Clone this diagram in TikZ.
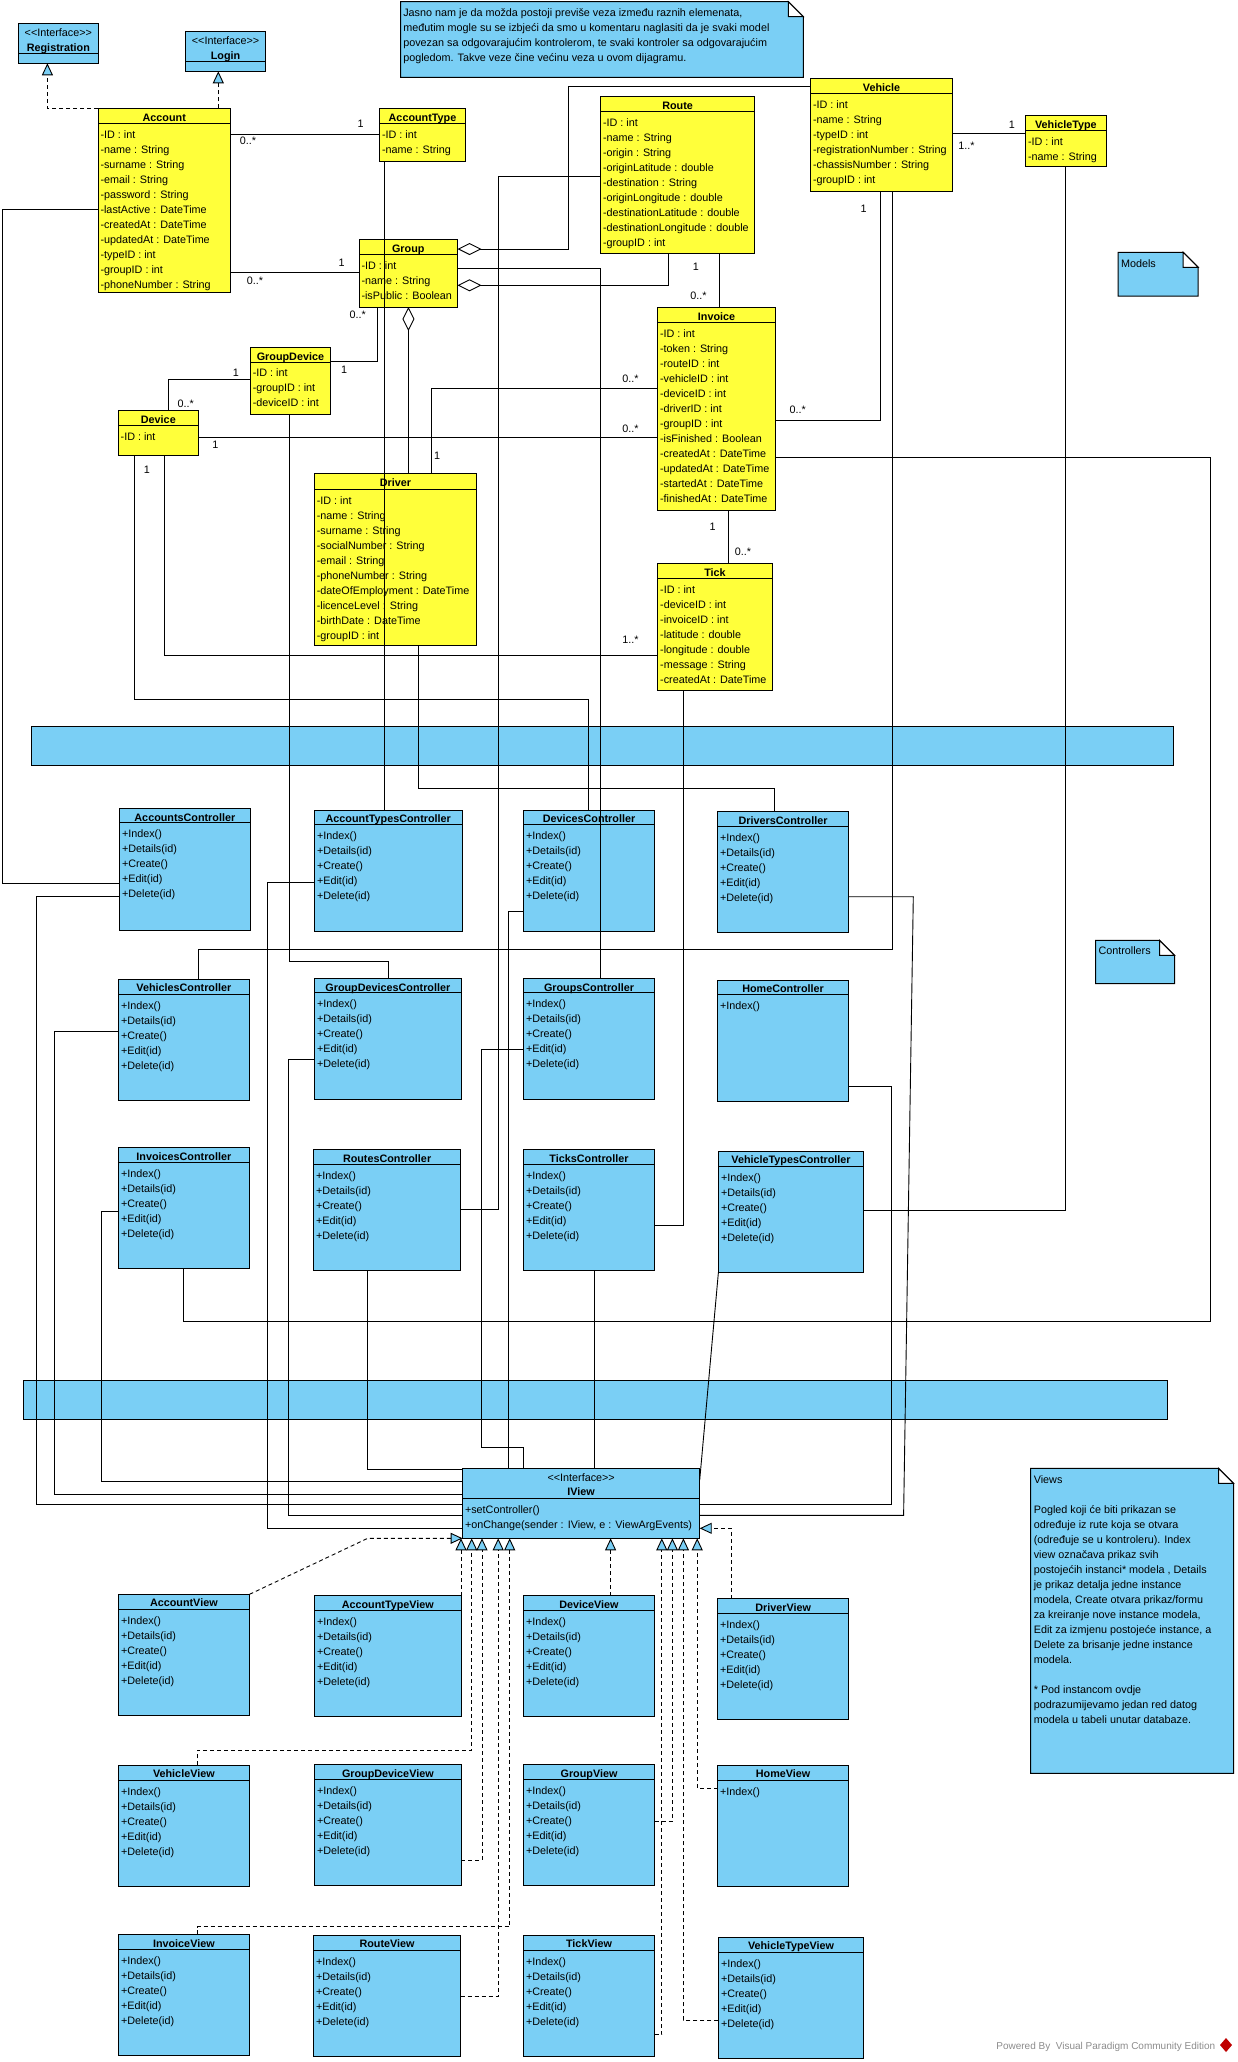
\documentclass[tikz,border=0pt]{standalone}
\usepackage{fontspec}
\newfontfamily\vp{Liberation Sans}
\usetikzlibrary{arrows.meta,fit}
\definecolor{vpy}{RGB}{255,255,58}
\definecolor{vpb}{RGB}{122,207,245}
\tikzset{
 ubox/.style={draw=black, line width=1pt, inner sep=0pt, outer sep=0pt},
 ubline/.style={draw=black, line width=1pt},
 txt/.style={inner sep=0pt, outer sep=0pt, text height=7.7pt, text depth=0pt, font=\vp\fontsize{10.8pt}{13pt}\selectfont},
 urow/.style={txt, anchor=west},
 utitle/.style={txt, font=\vp\bfseries\fontsize{10.8pt}{13pt}\selectfont},
 conn/.style={draw=black, line width=0.9pt},
 dsh/.style={conn, dash pattern=on 4pt off 3pt},
 real/.style={dsh, -{Triangle[width=11pt,length=12pt,fill=vpb,line width=0.9pt]}},
 agg/.style={conn, {Diamond[width=12pt,length=24pt,fill=white,line width=0.9pt]}-},
 mult/.style={txt, anchor=center},
}
\newcommand\ucls[7]{%
  \node[ubox, fill=#6, fit={(#2,#3) (#4,#5)}] (#1) {};
  \draw[ubline] (#2,#7) -- (#4,#7);}
\newcommand\utit[3]{\node[utitle] (#1t) at (#1.north |- 0,#2) {#3};}
\newcommand\ster[2]{\node[txt] (#1s) at (#1.north |- 0,#2) {<<Interface>>};}
\newcommand\urows[4]{\foreach \t [count=\i from 0] in #4 {\node[urow] (#1r\i) at (#2,{#3+15*\i}) {\t};}}
\newcommand\unote[5]{%
  \node[inner sep=0pt, outer sep=0pt, fit={(#2,#3) (#4,#5)}] (#1) {};
  \draw[ubline, fill=vpb] (#2,#3) -- ({#4-15},#3) -- (#4,{#3+15}) -- (#4,#5) -- (#2,#5) -- cycle;
  \draw[ubline, fill=white] ({#4-15},#3) -- ({#4-15},{#3+15}) -- (#4,{#3+15}) -- cycle;}
\newcommand\mlab[4]{\node[mult] (#1) at (#2,#3) {#4};}
\def\crud{+Index(),+Details(id),+Create(),+Edit(id),+Delete(id)}
\begin{document}
\begin{tikzpicture}[x=1pt,y=-1pt]
\useasboundingbox (0,0) rectangle (1238,2062);
\path[fill=white] (0,0) rectangle (1238,2062);

% bands
\node[ubox, fill=vpb, fit={(31.2,726.3) (1173.7,765.3)}] (cband) {};
\node[ubox, fill=vpb, fit={(23.3,1380.3) (1167.6,1419.3)}] (vband) {};

% notes
\unote{ntop}{400.5}{1.7}{803.4}{77.3}
\node[urow] (ntop1) at (403.3,12.3) {Jasno nam je da možda postoji previše veza između raznih elemenata,};
\node[urow] (ntop2) at (403.3,27.3) {međutim mogle su se izbjeći da smo u komentaru naglasiti da je svaki model};
\node[urow] (ntop3) at (403.3,42.3) {povezan sa odgovarajućim kontrolerom, te svaki kontroler sa odgovarajućim};
\node[urow] (ntop4) at (403.3,57.3) {pogledom. Takve veze čine većinu veza u ovom dijagramu.};
\unote{nmod}{1118.2}{252.3}{1198.2}{296}
\node[urow] (nmod1) at (1121,263.3) {Models};
\unote{nctl}{1095.6}{940.3}{1174.5}{983.7}
\node[urow] (nctl1) at (1098.5,951) {Controllers};
\unote{nview}{1030.5}{1468.3}{1233.5}{1773.3}
\node[urow] (nview0) at (1033.8,1479.3) {Views};
\foreach \t [count=\i from 0] in {Pogled koji će biti prikazan se,određuje iz rute koja se otvara,(određuje se u kontroleru). Index,view označava prikaz svih,postojećih instanci* modela {,} Details,je prikaz detalja jedne instance,{modela, Create otvara prikaz/formu},{za kreiranje nove instance modela,},{Edit za izmjenu postojeće instance, a},Delete za brisanje jedne instance,modela.,,* Pod instancom ovdje,podrazumijevamo jedan red datog,modela u tabeli unutar databaze.}
  {\node[urow] (nvl\i) at (1033.8,{1509.3+15*\i}) {\t};}

% interfaces
\ucls{reg}{18.6}{23.3}{98.1}{63.3}{vpb}{53.3}
\ster{reg}{32.3}\utit{reg}{47.3}{Registration}
\ucls{login}{185.4}{31.3}{265.7}{71.3}{vpb}{61.3}
\ster{login}{40.3}\utit{login}{55.3}{Login}

% models
\ucls{acc}{98}{108.3}{230.5}{292.3}{vpy}{123.3}
\utit{acc}{117.3}{Account}
\urows{acc}{100.5}{134.3}{{-ID : int,-name : String,-surname : String,-email : String,-password : String,-lastActive : DateTime,-createdAt : DateTime,-updatedAt : DateTime,-typeID : int,-groupID : int,-phoneNumber : String}}
\ucls{acct}{379.6}{108.3}{465.4}{161.3}{vpy}{123.3}
\utit{acct}{117.3}{AccountType}
\urows{acct}{382}{134.3}{{-ID : int,-name : String}}
\ucls{group}{359}{239.3}{457.5}{307}{vpy}{254.3}
\utit{group}{248.3}{Group}
\urows{group}{361.5}{265.3}{{-ID : int,-name : String,-isPublic : Boolean}}
\ucls{route}{600.6}{96.7}{754.6}{253.3}{vpy}{111.7}
\utit{route}{105.3}{Route}
\urows{route}{603}{122.3}{{-ID : int,-name : String,-origin : String,-originLatitude : double,-destination : String,-originLongitude : double,-destinationLatitude : double,-destinationLongitude : double,-groupID : int}}
\ucls{veh}{810.4}{78.3}{952.6}{191}{vpy}{93.7}
\utit{veh}{87.3}{Vehicle}
\urows{veh}{813}{104.3}{{-ID : int,-name : String,-typeID : int,-registrationNumber : String,-chassisNumber : String,-groupID : int}}
\ucls{vtype}{1025.3}{115.3}{1106.5}{166.3}{vpy}{130.7}
\utit{vtype}{124.3}{VehicleType}
\urows{vtype}{1028}{141.3}{{-ID : int,-name : String}}
\ucls{inv}{657.7}{307.3}{775.3}{510}{vpy}{322.7}
\utit{inv}{316.3}{Invoice}
\urows{inv}{660}{333.3}{{-ID : int,-token : String,-routeID : int,-vehicleID : int,-deviceID : int,-driverID : int,-groupID : int,-isFinished : Boolean,-createdAt : DateTime,-updatedAt : DateTime,-startedAt : DateTime,-finishedAt : DateTime}}
\ucls{gdev}{250.3}{347.3}{330.6}{414.3}{vpy}{362.3}
\utit{gdev}{356.3}{GroupDevice}
\urows{gdev}{252.8}{373}{{-ID : int,-groupID : int,-deviceID : int}}
\ucls{dev}{118.2}{410.3}{198.5}{455.3}{vpy}{425.7}
\utit{dev}{419.3}{Device}
\urows{dev}{120.7}{436.3}{{-ID : int}}
\ucls{drv}{314.3}{473.3}{476.5}{645.3}{vpy}{489.3}
\utit{drv}{482.3}{Driver}
\urows{drv}{316.8}{500.3}{{-ID : int,-name : String,-surname : String,-socialNumber : String,-email : String,-phoneNumber : String,-dateOfEmployment : DateTime,-licenceLevel : String,-birthDate : DateTime,-groupID : int}}
\ucls{tick}{657.7}{563.3}{772.3}{690.3}{vpy}{578.7}
\utit{tick}{572.3}{Tick}
\urows{tick}{660.2}{589.3}{{-ID : int,-deviceID : int,-invoiceID : int,-latitude : double,-longitude : double,-message : String,-createdAt : DateTime}}

% controllers
\ucls{accC}{119.4}{808.3}{250.3}{930.3}{vpb}{822.7}\utit{accC}{817.3}{AccountsController}\urows{accC}{122}{833.3}{\crud}
\ucls{acctC}{314.3}{810.3}{462.2}{931.3}{vpb}{824.7}\utit{acctC}{819}{AccountTypesController}\urows{acctC}{317}{835.3}{\crud}
\ucls{devC}{523.5}{810.3}{654.5}{931.3}{vpb}{824.7}\utit{devC}{819}{DevicesController}\urows{devC}{526}{835.3}{\crud}
\ucls{drvC}{717.6}{811.3}{848.6}{932.3}{vpb}{826.3}\utit{drvC}{820.3}{DriversController}\urows{drvC}{720}{837.3}{\crud}
\ucls{vehC}{118.2}{979.3}{249.5}{1100.3}{vpb}{994.3}\utit{vehC}{988}{VehiclesController}\urows{vehC}{121}{1005.3}{\crud}
\ucls{gdevC}{314.3}{978.3}{461.4}{1099.3}{vpb}{992.7}\utit{gdevC}{987.3}{GroupDevicesController}\urows{gdevC}{317}{1003.3}{\crud}
\ucls{grpC}{523.5}{978.3}{654.5}{1099.3}{vpb}{992.7}\utit{grpC}{987.3}{GroupsController}\urows{grpC}{526}{1003.3}{\crud}
\ucls{homeC}{717.6}{980.3}{848.6}{1101.3}{vpb}{994.3}\utit{homeC}{989}{HomeController}\urows{homeC}{720}{1005.3}{{+Index()}}
\ucls{invC}{118.2}{1147.3}{249.5}{1268.3}{vpb}{1162.7}\utit{invC}{1156.3}{InvoicesController}\urows{invC}{121}{1173.3}{\crud}
\ucls{rteC}{313.6}{1149.3}{460.6}{1270.3}{vpb}{1164.3}\utit{rteC}{1158.3}{RoutesController}\urows{rteC}{316}{1175.3}{\crud}
\ucls{tickC}{523.5}{1149.3}{654.5}{1270.3}{vpb}{1164.3}\utit{tickC}{1158.3}{TicksController}\urows{tickC}{526}{1175.3}{\crud}
\ucls{vtC}{718.4}{1151.3}{863.7}{1272.3}{vpb}{1166.3}\utit{vtC}{1160}{VehicleTypesController}\urows{vtC}{721}{1177.3}{\crud}

% views
\ucls{iview}{462.6}{1468.3}{699.7}{1538.3}{vpb}{1498.3}
\ster{iview}{1477.3}\utit{iview}{1492}{IView}
\urows{iview}{465}{1509.3}{{+setController(),{+onChange(sender : IView, e : ViewArgEvents)}}}
\ucls{accV}{118.2}{1594.3}{249.5}{1715.3}{vpb}{1609.7}\utit{accV}{1603}{AccountView}\urows{accV}{121}{1620.3}{\crud}
\ucls{acctV}{314.3}{1595.7}{461.4}{1716.3}{vpb}{1610.7}\utit{acctV}{1604.3}{AccountTypeView}\urows{acctV}{317}{1621.3}{\crud}
\ucls{devV}{523.5}{1595.7}{654.5}{1716.3}{vpb}{1610.7}\utit{devV}{1604.3}{DeviceView}\urows{devV}{526}{1621.3}{\crud}
\ucls{drvV}{717.6}{1598.7}{848.6}{1719.3}{vpb}{1613.7}\utit{drvV}{1607.3}{DriverView}\urows{drvV}{720}{1624.3}{\crud}
\ucls{vehV}{118.2}{1765.3}{249.5}{1886.3}{vpb}{1780.3}\utit{vehV}{1774}{VehicleView}\urows{vehV}{121}{1791.3}{\crud}
\ucls{gdevV}{314.3}{1764.3}{461.4}{1885.3}{vpb}{1779.3}\utit{gdevV}{1773.3}{GroupDeviceView}\urows{gdevV}{317}{1790.3}{\crud}
\ucls{grpV}{523.5}{1764.3}{654.5}{1885.3}{vpb}{1779.3}\utit{grpV}{1773.3}{GroupView}\urows{grpV}{526}{1790.3}{\crud}
\ucls{homeV}{717.6}{1765.3}{848.6}{1886.3}{vpb}{1780.3}\utit{homeV}{1774}{HomeView}\urows{homeV}{720}{1791.3}{{+Index()}}
\ucls{invV}{118.2}{1934.3}{249.5}{2055.3}{vpb}{1949.7}\utit{invV}{1943.3}{InvoiceView}\urows{invV}{121}{1960.3}{\crud}
\ucls{rteV}{313.6}{1935.3}{460.6}{2056.3}{vpb}{1950.3}\utit{rteV}{1944}{RouteView}\urows{rteV}{316}{1961.3}{\crud}
\ucls{tickV}{523.5}{1935.3}{654.5}{2056.3}{vpb}{1950.3}\utit{tickV}{1944}{TickView}\urows{tickV}{526}{1961.3}{\crud}
\ucls{vtV}{718.4}{1937.3}{863.7}{2058.3}{vpb}{1952.3}\utit{vtV}{1946}{VehicleTypeView}\urows{vtV}{721}{1963.3}{\crud}

% ---------- connectors: models ----------
\draw[real] (acc.north west) -- (47.4,108.3) -- (reg.south -| 47.4,0);
\draw[real] (218.3,0 |- acc.north) -- (218.3,0 |- login.south);
\draw[conn] (acc.east |- 0,134.3) -- (acct.west |- 0,134.3);
\draw[conn] (acc.east |- 0,272.3) -- (group.west |- 0,272.3);
\draw[conn] (acc.west |- 0,209.3) -- (2,209.3) -- (2,883.3) -- (accC.west |- 0,883.3);
\draw[conn] (384.3,0 |- acct.south) -- (384.3,0 |- acctC.north);
\draw[agg] (group.east |- 0,249) -- (568.2,249) -- (568.2,86.7) -- (veh.west |- 0,86.7);
\draw[agg] (group.east |- 0,285.3) -- (668,285.3) -- (668,0 |- route.south);
\draw[agg] (408.4,0 |- group.south) -- (408.4,0 |- drv.north);
\draw[conn] (group.east |- 0,268.3) -- (600.2,268.3) -- (600.2,0 |- grpC.north);
\draw[conn] (gdev.east |- 0,361.7) -- (377.2,361.7) -- (377.2,0 |- group.south);
\draw[conn] (gdev.west |- 0,379.3) -- (168.8,379.3) -- (168.8,0 |- dev.north);
\draw[conn] (dev.east |- 0,437.3) -- (inv.west |- 0,437.3);
\draw[conn] (164.1,0 |- dev.south) -- (164.1,655.3) -- (tick.west |- 0,655.3);
\draw[conn] (134.8,0 |- dev.south) -- (134.8,699.3) -- (588.4,699.3) -- (588.4,0 |- devC.north);
\draw[conn] (431.4,0 |- drv.north) -- (431.4,388.3) -- (inv.west |- 0,388.3);
\draw[conn] (418.3,0 |- drv.south) -- (418.3,788.3) -- (774.6,788.3) -- (774.6,0 |- drvC.north);
\draw[conn] (289.4,0 |- gdev.south) -- (289.4,961.3) -- (388.3,961.3) -- (388.3,0 |- gdevC.north);
\draw[conn] (route.west |- 0,176) -- (498.2,176) -- (498.2,1209) -- (rteC.east |- 0,1209);
\draw[conn] (719.6,0 |- route.south) -- (719.6,0 |- inv.north);
\draw[conn] (880.8,0 |- veh.south) -- (880.8,420.3) -- (inv.east |- 0,420.3);
\draw[conn] (892,0 |- veh.south) -- (892,949.3) -- (198.5,949.3) -- (198.5,0 |- vehC.north);
\draw[conn] (veh.east |- 0,133.7) -- (vtype.west |- 0,133.7);
\draw[conn] (1065.5,0 |- vtype.south) -- (1065.5,1210.3) -- (vtC.east |- 0,1210.3);
\draw[conn] (inv.east |- 0,457.7) -- (1210.3,457.7) -- (1210.3,1321.3) -- (183.5,1321.3) -- (183.5,0 |- invC.south);
\draw[conn] (728.6,0 |- inv.south) -- (728.6,0 |- tick.north);
\draw[conn] (683.7,0 |- tick.south) -- (683.7,1225.3) -- (tickC.east |- 0,1225.3);

% ---------- connectors: controllers to IView ----------
\draw[conn] (accC.west |- 0,896.7) -- (36,896.7) -- (36,1504.3) -- (iview.west |- 0,1504.3);
\draw[conn] (acctC.west |- 0,882.3) -- (267.7,882.3) -- (267.7,1528.3) -- (iview.west |- 0,1528.3);
\draw[conn] (devC.west |- 0,911.3) -- (508.5,911.3) -- (508.5,0 |- iview.north);
\draw[conn] (drvC.east |- 0,896.7) -- (913.3,896.7) -- (903.6,1515.3) -- (iview.east |- 0,1515.3);
\draw[conn] (vehC.west |- 0,1031.3) -- (54.6,1031.3) -- (54.6,1494.3) -- (iview.west |- 0,1494.3);
\draw[conn] (gdevC.west |- 0,1059.7) -- (288.6,1059.7) -- (288.6,1515.3) -- (iview.west |- 0,1515.3);
\draw[conn] (grpC.west |- 0,1049.3) -- (481.2,1049.3) -- (481.2,1447.3) -- (523.5,1447.3) -- (523.5,0 |- iview.north);
\draw[conn] (homeC.east |- 0,1086.7) -- (891.3,1086.7) -- (891.3,1504.3) -- (iview.east |- 0,1504.3);
\draw[conn] (invC.west |- 0,1211.3) -- (101.6,1211.3) -- (101.6,1481) -- (iview.west |- 0,1481);
\draw[conn] (367.7,0 |- rteC.south) -- (367.7,1469.3) -- (iview.west |- 0,1469.3);
\draw[conn] (594.3,0 |- tickC.south) -- (594.3,0 |- iview.north);
\draw[conn] (vtC.south west) -- (iview.east |- 0,1480);

% ---------- realizations: views to IView ----------
\draw[real] (accV.north east) -- (367.7,1538.3) -- (iview.south west);
\draw[real] (461,0 |- acctV.north) -- (461,0 |- iview.south);
\draw[real] (197.3,0 |- vehV.north) -- (197.3,1750) -- (471.7,1750) -- (471.7,0 |- iview.south);
\draw[real] (gdevV.east |- 0,1860) -- (482,1860) -- (482,0 |- iview.south);
\draw[real] (rteV.east |- 0,1996.3) -- (498.2,1996.3) -- (498.2,0 |- iview.south);
\draw[real] (197.3,0 |- invV.north) -- (197.3,1926.7) -- (509.7,1926.7) -- (509.7,0 |- iview.south);
\draw[real] (610.6,0 |- devV.north) -- (610.6,0 |- iview.south);
\draw[real] (tickV.east |- 0,2034.3) -- (661.8,2034.3) -- (661.8,0 |- iview.south);
\draw[real] (grpV.east |- 0,1821) -- (672.4,1821) -- (672.4,0 |- iview.south);
\draw[real] (vtV.west |- 0,2020.3) -- (683.4,2020.3) -- (683.4,0 |- iview.south);
\draw[real] (homeV.west |- 0,1788.3) -- (697.2,1788.3) -- (697.2,0 |- iview.south);
\draw[real] (731.4,0 |- drvV.north) -- (731.4,1528.3) -- (iview.east |- 0,1528.3);

% ---------- multiplicities ----------
\mlab{m1}{248}{141}{0..*}
\mlab{m2}{360.6}{124}{1}
\mlab{m3}{341.6}{263}{1}
\mlab{m4}{255}{281}{0..*}
\mlab{m5}{357.8}{315}{0..*}
\mlab{m6}{344}{370}{1}
\mlab{m7}{236}{373}{1}
\mlab{m8}{185.8}{403.3}{0..*}
\mlab{m9}{215.5}{444.3}{1}
\mlab{m10}{147}{470}{1}
\mlab{m11}{437}{455.3}{1}
\mlab{m12}{630.5}{378.7}{0..*}
\mlab{m13}{630.5}{429}{0..*}
\mlab{m14}{630.5}{640}{1..*}
\mlab{m15}{695.8}{267}{1}
\mlab{m16}{698.4}{295.7}{0..*}
\mlab{m17}{863.5}{208.3}{1}
\mlab{m18}{797.8}{410}{0..*}
\mlab{m19}{1011.9}{125}{1}
\mlab{m20}{966.5}{146}{1..*}
\mlab{m21}{712.6}{527}{1}
\mlab{m22}{742.9}{552}{0..*}

% footer
\node[txt, anchor=east, text=black!45, font=\vp\fontsize{10pt}{12pt}\selectfont] (vpfoot) at (1215.2,2045.7) {Powered By\ \ Visual Paradigm Community Edition};
\path[fill=red!75!black] (1226,2038) -- (1232,2045) -- (1226,2052) -- (1220,2045) -- cycle;
\end{tikzpicture}
\end{document}
